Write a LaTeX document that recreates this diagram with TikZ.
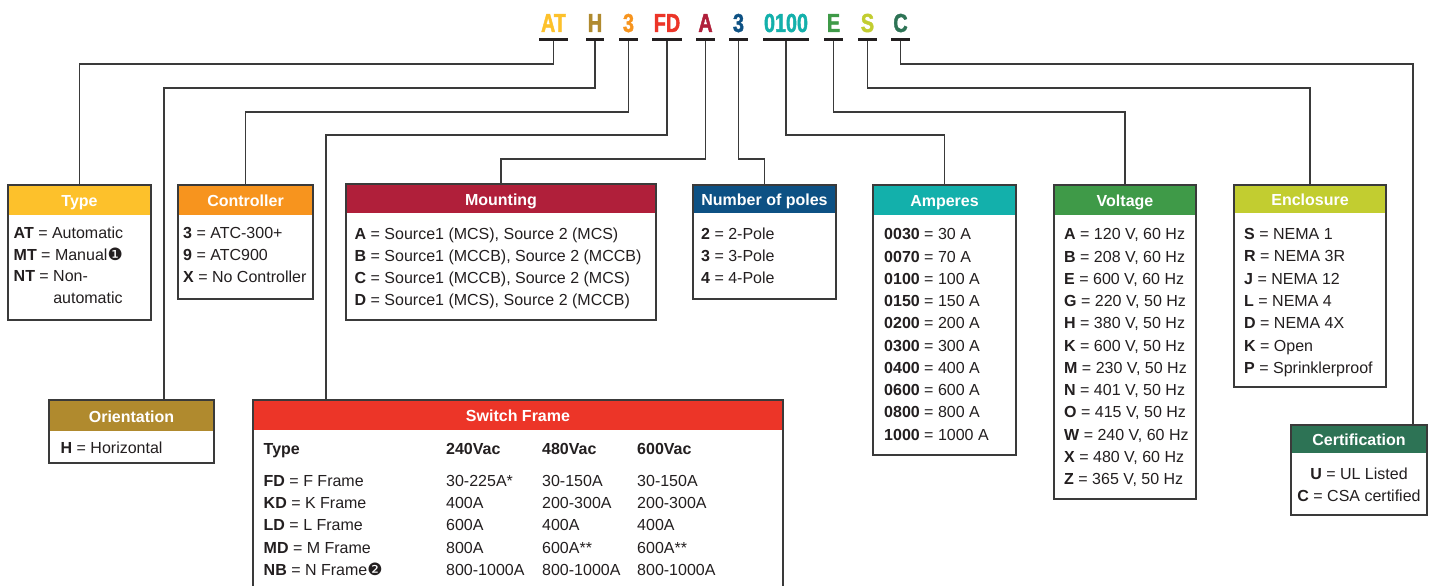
\documentclass[tikz,border=0pt]{standalone}
\usepackage{fontspec}
\setmainfont{Liberation Sans}
\newfontfamily\dejavu{DejaVu Sans}
\newfontfamily\condfnt[UprightFont=* Bold, FakeStretch=0.76, FakeBold=1.6]{Liberation Sans}
\usetikzlibrary{calc}
\definecolor{cType}{HTML}{FDC12B}
\definecolor{cOrient}{HTML}{B08A2E}
\definecolor{cCtrl}{HTML}{F7941E}
\definecolor{cSwitch}{HTML}{EC3528}
\definecolor{cMount}{HTML}{B01F3A}
\definecolor{cPoles}{HTML}{0D5184}
\definecolor{cAmp}{HTML}{13B0AB}
\definecolor{cVolt}{HTML}{3F9A48}
\definecolor{cEncl}{HTML}{C2CD30}
\definecolor{cCert}{HTML}{2D7355}
\definecolor{frameC}{HTML}{3A3A3A}
\definecolor{ink}{HTML}{231F20}
\newcommand\hdrfnt{\fontsize{16}{19}\selectfont\bfseries}
\newcommand\bodyfnt{\fontsize{16}{19}\selectfont}
\newcommand\cA{{\dejavu\fontsize{17}{17}\selectfont ❶}}
\newcommand\cB{{\dejavu\fontsize{17}{17}\selectfont ❷}}
\tikzset{
  hdr/.style={fill=#1, text=white, font=\hdrfnt, anchor=north west, inner sep=0pt, outer sep=0pt, text height=14pt, text depth=1pt},
  frm/.style={draw=frameC, line width=1.5pt, anchor=north west, inner sep=0pt, outer sep=0pt},
  body/.style={font=\bodyfnt, text=ink, anchor=base west, inner sep=0pt},
  bodyc/.style={font=\bodyfnt, text=ink, anchor=base, inner sep=0pt},
  code/.style={text=#1, font=\condfnt\fontsize{26}{26}\selectfont, anchor=base, inner sep=0pt},
  bar/.style={fill=ink, inner sep=0pt, outer sep=0pt, minimum height=3pt},
  conn/.style={draw=frameC, line width=1.25pt},
}
\newcommand\keybox[8]{%
  \node[hdr=#2, minimum width=#5pt, minimum height=#7pt] (#1H) at (#3,#4) {#8};
  \node[frm, minimum width=#5pt, minimum height=#6pt] (#1) at (#3,#4) {};}
\begin{document}
\begin{tikzpicture}[x=1pt,y=-1pt]
\useasboundingbox (0,0) rectangle (1435,586);
\clip (0,0) rectangle (1435,586);
\fill[white] (0,0) rectangle (1435,586);

% code letters
\node[code=cType]   (kAT) at (553.5,32) {AT};
\node[code=cOrient] (kH)  at (595,32) {H};
\node[code=cCtrl]   (kC)  at (628.5,32) {3};
\node[code=cSwitch] (kFD) at (667,32) {FD};
\node[code=cMount]  (kA)  at (705.5,32) {A};
\node[code=cPoles]  (kP)  at (738.5,32) {3};
\node[code=cAmp]    (k0)  at (786,32) {0100};
\node[code=cVolt]   (kE)  at (833.5,32) {E};
\node[code=cEncl]   (kS)  at (867.5,32) {S};
\node[code=cCert]   (kCc) at (900.5,32) {C};

% bars
\node[bar, minimum width=29pt] (bAT) at (553.5,40) {};
\node[bar, minimum width=18pt] (bH)  at (595,40) {};
\node[bar, minimum width=19pt] (bC)  at (628.5,40) {};
\node[bar, minimum width=30pt] (bFD) at (667,40) {};
\node[bar, minimum width=19pt] (bA)  at (705.5,40) {};
\node[bar, minimum width=19pt] (bP)  at (738.5,40) {};
\node[bar, minimum width=46pt] (b0)  at (786,40) {};
\node[bar, minimum width=19pt] (bE)  at (833.5,40) {};
\node[bar, minimum width=19pt] (bS)  at (867.5,40) {};
\node[bar, minimum width=19pt] (bCc) at (900.5,40) {};

% boxes
\keybox{type}{cType}{8}{185}{143}{135}{30}{Type}
\keybox{ctrl}{cCtrl}{178}{185}{135}{114}{30}{Controller}
\keybox{mount}{cMount}{346}{184}{310}{136}{29}{Mounting}
\keybox{poles}{cPoles}{693}{185}{143}{114}{28}{Number of poles}
\keybox{amp}{cAmp}{873}{185}{143}{270}{30}{Amperes}
\keybox{volt}{cVolt}{1054}{185}{142}{314}{30}{Voltage}
\keybox{encl}{cEncl}{1234}{185}{152}{202}{28}{Enclosure}
\keybox{orient}{cOrient}{49}{400}{165}{63}{31}{Orientation}
\keybox{cert}{cCert}{1291}{425}{136}{90}{28}{Certification}
\keybox{sw}{cSwitch}{253}{400}{530}{220}{30}{Switch Frame}

% connection points
\coordinate (orientIn) at ($(orient.north west)+(115,0)$);
\coordinate (swIn) at ($(sw.north west)+(73,0)$);
\coordinate (certIn) at ($(cert.north west)+(122,0)$);

% connectors
\draw[conn] (bAT.south) |- (type.north |- 0,64) -- (type.north);
\draw[conn] (bH.south) |- (orientIn |- 0,88) -- (orientIn);
\draw[conn] (bC.south) |- (ctrl.north |- 0,112) -- (ctrl.north);
\draw[conn] (bFD.south) |- (swIn |- 0,135) -- (swIn);
\draw[conn] (bA.south) |- (mount.north |- 0,159) -- (mount.north);
\draw[conn] (bP.south) |- (poles.north |- 0,159) -- (poles.north);
\draw[conn] (b0.south) |- (amp.north |- 0,135) -- (amp.north);
\draw[conn] (bE.south) |- (volt.north |- 0,112) -- (volt.north);
\draw[conn] (bS.south) |- (encl.north |- 0,88) -- (encl.north);
\draw[conn] (bCc.south) |- (certIn |- 0,64) -- (certIn);

% Type
\node[body] (t0) at (13.5,238.3) {\textbf{AT} = Automatic};
\node[body] (t1) at (13.5,260) {\textbf{MT} = Manual\cA};
\node[body] (t2) at (13.5,281.8) {\textbf{NT} = Non-};
\node[body] (t3) at (13.5,303.6) {\phantom{\textbf{NT} = }automatic};

% Controller
\node[body] (c0) at (183,238) {\textbf{3} = ATC-300+};
\node[body] (c1) at (183,260) {\textbf{9} = ATC900};
\node[body] (c2) at (183,282) {\textbf{X} = No Controller};

% Mounting
\foreach \t [count=\i from 0] in {{\textbf{A} = Source1 (MCS), Source 2 (MCS)},{\textbf{B} = Source1 (MCCB), Source 2 (MCCB)},{\textbf{C} = Source1 (MCCB), Source 2 (MCS)},{\textbf{D} = Source1 (MCS), Source 2 (MCCB)}}
  \node[body] (m\i) at (354.5,239+22.2*\i) {\t};

% Poles
\foreach \t [count=\i from 0] in {{\textbf{2} = 2-Pole},{\textbf{3} = 3-Pole},{\textbf{4} = 4-Pole}}
  \node[body] (p\i) at (701,239+22.2*\i) {\t};

% Amperes
\foreach \t [count=\i from 0] in {{\textbf{0030} = 30 A},{\textbf{0070} = 70 A},{\textbf{0100} = 100 A},{\textbf{0150} = 150 A},{\textbf{0200} = 200 A},{\textbf{0300} = 300 A},{\textbf{0400} = 400 A},{\textbf{0600} = 600 A},{\textbf{0800} = 800 A},{\textbf{1000} = 1000 A}}
  \node[body] (a\i) at (884,239.8+22.25*\i) {\t};

% Voltage
\foreach \t [count=\i from 0] in {{\textbf{A} = 120 V, 60 Hz},{\textbf{B} = 208 V, 60 Hz},{\textbf{E} = 600 V, 60 Hz},{\textbf{G} = 220 V, 50 Hz},{\textbf{H} = 380 V, 50 Hz},{\textbf{K} = 600 V, 50 Hz},{\textbf{M} = 230 V, 50 Hz},{\textbf{N} = 401 V, 50 Hz},{\textbf{O} = 415 V, 50 Hz},{\textbf{W} = 240 V, 60 Hz},{\textbf{X} = 480 V, 60 Hz},{\textbf{Z} = 365 V, 50 Hz}}
  \node[body] (v\i) at (1064,239.8+22.27*\i) {\t};

% Enclosure
\foreach \t [count=\i from 0] in {{\textbf{S} = NEMA 1},{\textbf{R} = NEMA 3R},{\textbf{J} = NEMA 12},{\textbf{L} = NEMA 4},{\textbf{D} = NEMA 4X},{\textbf{K} = Open},{\textbf{P} = Sprinklerproof}}
  \node[body] (e\i) at (1244,239.5+22.3*\i) {\t};

% Orientation
\node[body] (o0) at (60.5,453) {\textbf{H} = Horizontal};

% Certification
\node[bodyc] (u0) at (1359,479) {\textbf{U} = UL Listed};
\node[bodyc] (u1) at (1359,501) {\textbf{C} = CSA certified};

% Switch Frame table
\node[body] (sh0) at (263.5,454.5) {\textbf{Type}};
\node[body] (sh1) at (446,454.5) {\textbf{240Vac}};
\node[body] (sh2) at (542,454.5) {\textbf{480Vac}};
\node[body] (sh3) at (637,454.5) {\textbf{600Vac}};
\foreach \a/\b/\c/\d [count=\i from 0] in {{\textbf{FD} = F Frame}/{30-225A*}/{30-150A}/{30-150A},{\textbf{KD} = K Frame}/{400A}/{200-300A}/{200-300A},{\textbf{LD} = L Frame}/{600A}/{400A}/{400A},{\textbf{MD} = M Frame}/{800A}/{600A**}/{600A**},{\textbf{NB} = N Frame\cB}/{800-1000A}/{800-1000A}/{800-1000A}}
{
  \node[body] (sa\i) at (263.5,486.5+22.2*\i) {\a};
  \node[body] (sb\i) at (446,486.5+22.2*\i) {\b};
  \node[body] (sc\i) at (542,486.5+22.2*\i) {\c};
  \node[body] (sd\i) at (637,486.5+22.2*\i) {\d};
}
\end{tikzpicture}
\end{document}
